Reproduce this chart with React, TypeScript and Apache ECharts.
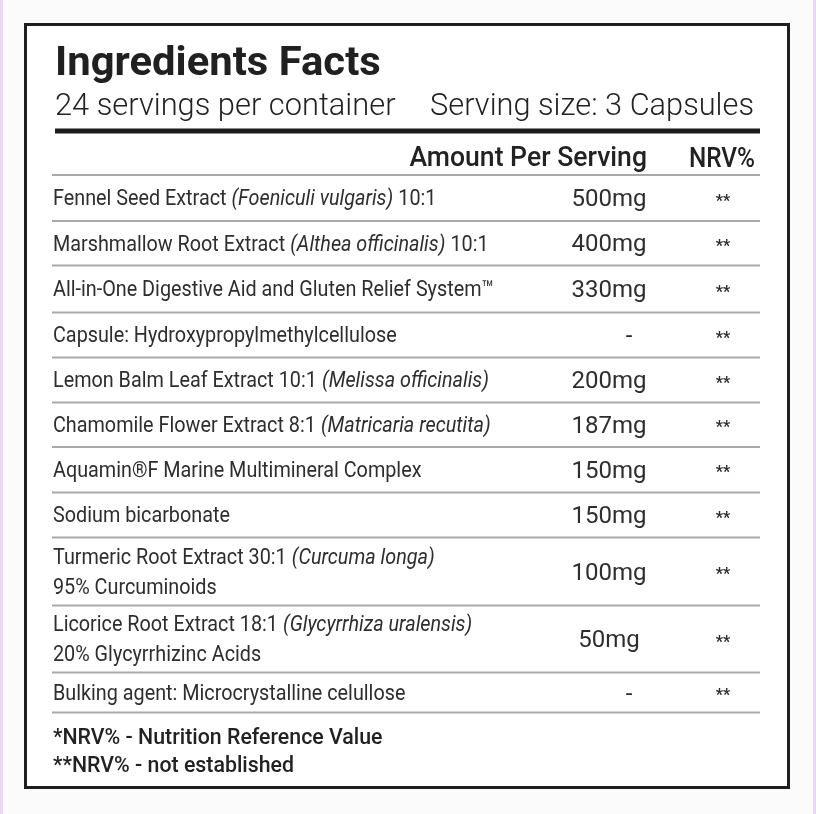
import React, { useEffect, useRef } from "react";
import * as echarts from "echarts";

const title = "Ingredients Facts";
const servingsText = "24 servings per container";
const servingSizeText = "Serving size: 3 Capsules";
const columnHeaders = ["Amount Per Serving", "NRV%"];
const ingredients = [
  "Fennel Seed Extract {i|(Foeniculi vulgaris)} 10:1",
  "Marshmallow Root Extract {i|(Althea officinalis)} 10:1",
  "All-in-One Digestive Aid and Gluten Relief System™",
  "Capsule: Hydroxypropylmethylcellulose",
  "Lemon Balm Leaf Extract 10:1 {i|(Melissa officinalis)}",
  "Chamomile Flower Extract 8:1 {i|(Matricaria recutita)}",
  "Aquamin®F Marine Multimineral Complex",
  "Sodium bicarbonate",
  "Turmeric Root Extract 30:1 {i|(Curcuma longa)}\n95% Curcuminoids",
  "Licorice Root Extract 18:1 {i|(Glycyrrhiza uralensis)}\n20% Glycyrrhizinc Acids",
  "Bulking agent: Microcrystalline celullose",
];
const amounts = ["500mg", "400mg", "330mg", "-", "200mg", "187mg", "150mg", "150mg", "100mg", "50mg", "-"];
const nrv = ["**", "**", "**", "**", "**", "**", "**", "**", "**", "**", "**"];
const footnotes = ["*NRV% - Nutrition Reference Value", "**NRV% - not established"];

// layout
const FONT = "Roboto, 'Noto Sans', sans-serif";
const TEXT = "#2e2e2e";
const SX = 0.9;
const rowHeights = [46, 44.5, 47, 45, 45, 44.5, 45.5, 45, 68, 67, 40];

export default function App() {
  const ref = useRef<HTMLDivElement>(null);
  useEffect(() => {
    const chart = echarts.init(ref.current!, null, { renderer: "svg", width: 816, height: 814 });
    const els: any[] = [];
    els.push({ type: "rect", shape: { x: 0, y: 0, width: 816, height: 814 }, style: { fill: "#fbfbfb" }, silent: true });
    els.push({ type: "rect", shape: { x: 0, y: 0, width: 3, height: 814 }, style: { fill: "#e9d8f4" } });
    els.push({ type: "rect", shape: { x: 813, y: 0, width: 3, height: 814 }, style: { fill: "#e9d8f4" } });
    els.push({ type: "rect", shape: { x: 25.5, y: 24.5, width: 763, height: 763 }, style: { fill: "#ffffff", stroke: "#1e1e1e", lineWidth: 3 } });

    const txt = (text: string, x: number, y: number, size: number, opts: any = {}) => ({
      type: "text",
      x,
      y,
      scaleX: opts.scaleX ?? SX,
      style: {
        text,
        fontFamily: FONT,
        fontSize: size,
        fontWeight: opts.weight ?? 400,
        fill: opts.fill ?? TEXT,
        align: opts.align ?? "left",
        verticalAlign: "middle",
        lineHeight: opts.lineHeight,
        rich: opts.rich,
      },
    });

    els.push(txt(title, 55, 61, 41, { weight: 700, scaleX: 1.02, fill: "#202020" }));
    els.push(txt(servingsText, 55, 104, 32, { scaleX: 0.964, weight: 300, fill: "#222" }));
    els.push(txt(servingSizeText, 754, 104, 32, { scaleX: 0.961, align: "right", weight: 300, fill: "#222" }));
    els.push({ type: "rect", shape: { x: 55, y: 128.5, width: 705, height: 5 }, style: { fill: "#1c1c1c" } });
    els.push(txt(columnHeaders[0], 647, 157, 28, { weight: 500, scaleX: 0.95, align: "right", fill: "#222" }));
    els.push(txt(columnHeaders[1], 755, 157, 28, { weight: 500, scaleX: 0.87, align: "right", fill: "#222" }));

    const lineEl = (y: number) => ({
      type: "line",
      shape: { x1: 52, y1: y, x2: 760, y2: y },
      style: { stroke: "#a9a9a9", lineWidth: 2 },
    });
    let y = 175;
    els.push(lineEl(y));
    const rich = {
      i: { fontStyle: "italic", fontFamily: FONT, fontSize: 22, fill: TEXT, lineHeight: 30 },
    };
    ingredients.forEach((name, k) => {
      const h = rowHeights[k];
      const cy = y + h / 2;
      els.push(txt(name, 53, cy, 22, { rich, lineHeight: 30 }));
      const a = amounts[k];
      els.push(txt(a, a === "-" ? 629 : 609, cy, 24, { align: "center", scaleX: 1.0 }));
      els.push(txt(nrv[k], 723, cy + 2, 16, { align: "center", weight: 700, scaleX: 1 }));
      y += h;
      els.push(lineEl(y));
    });
    els.push(txt(footnotes[0], 53, 736, 22, { weight: 500, scaleX: 0.97, fill: "#222" }));
    els.push(txt(footnotes[1], 53, 764, 22, { weight: 500, scaleX: 0.97, fill: "#222" }));

    chart.setOption({ animation: false, graphic: { elements: els } });
    return () => chart.dispose();
  }, []);
  return <div ref={ref} style={{ position: "fixed", left: 0, top: 0, width: 816, height: 814 }} />;
}
